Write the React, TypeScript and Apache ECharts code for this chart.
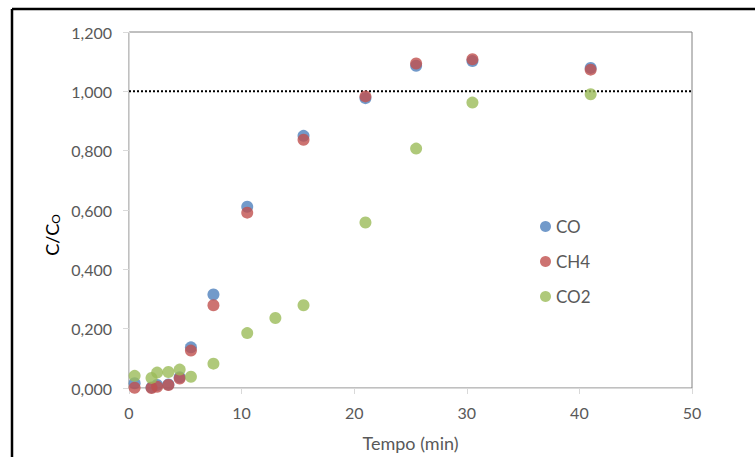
import React, { useEffect, useRef } from "react";
import * as echarts from "echarts";

const timeCO = [0.5, 2.0, 2.5, 3.5, 4.5, 5.5, 7.5, 10.5, 15.5, 21, 25.5, 30.5, 41];
const valCO = [0.016, 0.002, 0.01, 0.012, 0.036, 0.137, 0.315, 0.611, 0.85, 0.977, 1.086, 1.102, 1.079];
const timeCH4 = [0.5, 2.0, 2.5, 3.5, 4.5, 5.5, 7.5, 10.5, 15.5, 21, 25.5, 30.5, 41];
const valCH4 = [0.001, 0.0, 0.004, 0.01, 0.032, 0.126, 0.279, 0.591, 0.837, 0.983, 1.094, 1.108, 1.073];
const timeCO2 = [0.5, 2.0, 2.5, 3.5, 4.5, 5.5, 7.5, 10.5, 13, 15.5, 21, 25.5, 30.5, 41];
const valCO2 = [0.041, 0.034, 0.052, 0.054, 0.062, 0.038, 0.082, 0.185, 0.236, 0.279, 0.558, 0.807, 0.962, 0.99];
const refLineX = [0, 50];
const refLineY = [1, 1];
const seriesNames = ["CO", "CH4", "CO2"];
const colors = ["#4F81BD", "#C0504D", "#9BBB59"];

const zip = (xs: number[], ys: number[]) => xs.map((x, i) => [x, ys[i]]);

export default function App() {
  const ref = useRef<HTMLDivElement>(null);
  useEffect(() => {
    if (!ref.current) return;
    const chart = echarts.init(ref.current, null, { renderer: "svg" });
    const font = "Lato";
    chart.setOption({
      animation: false,
      backgroundColor: "#ffffff",
      textStyle: { fontFamily: font },
      grid: {
        left: 129,
        top: 32,
        width: 563,
        height: 361,
        show: true,
        borderColor: "#808080",
        borderWidth: 1,
      },
      legend: {
        orient: "vertical",
        left: 540,
        top: 217,
        padding: 0,
        itemWidth: 11,
        itemHeight: 11,
        itemGap: 16,
        icon: "circle",
        data: seriesNames,
        textStyle: { fontSize: 17, color: "#595959", fontFamily: font, lineHeight: 19 },
      },
      xAxis: {
        type: "value",
        min: 0,
        max: 50,
        interval: 10,
        name: "Tempo (min)",
        nameLocation: "middle",
        nameGap: 46,
        nameTextStyle: { fontSize: 18, color: "#595959", fontFamily: font },
        axisLine: { show: true, onZero: false, lineStyle: { color: "#d9d9d9", width: 1 } },
        axisTick: { show: true, length: 6, lineStyle: { color: "#d9d9d9" } },
        axisLabel: { fontSize: 16, color: "#595959", margin: 16, fontFamily: font },
        splitLine: { show: false },
      },
      yAxis: {
        type: "value",
        min: 0,
        max: 1.2,
        interval: 0.2,
        axisLine: { show: true, onZero: false, lineStyle: { color: "#d9d9d9", width: 1 } },
        axisTick: { show: true, length: 6, lineStyle: { color: "#d9d9d9" } },
        axisLabel: {
          fontSize: 16,
          color: "#595959",
          margin: 17,
          fontFamily: font,
          formatter: (v: number) => v.toFixed(3).replace(".", ","),
        },
        splitLine: { show: false },
      },
      graphic: [
        {
          type: "line",
          shape: { x1: 12, y1: 9, x2: 755, y2: 9 },
          style: { stroke: "#000", lineWidth: 2.5 },
        },
        {
          type: "line",
          shape: { x1: 12, y1: 9, x2: 12, y2: 457 },
          style: { stroke: "#000", lineWidth: 2.5 },
        },
        {
          type: "text",
          x: 50,
          y: 235,
          rotation: Math.PI / 2,
          style: {
            text: "{a|C/C}{b|O}",
            align: "center",
            verticalAlign: "middle",
            rich: {
              a: { fontSize: 18, color: "#595959", fontFamily: font, lineHeight: 22, verticalAlign: "bottom" },
              b: { fontSize: 12, color: "#595959", fontFamily: font, lineHeight: 14, verticalAlign: "bottom" },
            },
          },
        },
      ],
      series: [
        {
          name: "ref",
          type: "line",
          data: zip(refLineX, refLineY),
          symbol: "none",
          lineStyle: { color: "#000", width: 2, type: [2, 2] },
          silent: true,
          z: 1,
        },
        {
          name: seriesNames[0],
          type: "scatter",
          data: zip(timeCO, valCO),
          symbolSize: 12,
          itemStyle: { color: colors[0] },
          z: 2,
        },
        {
          name: seriesNames[1],
          type: "scatter",
          data: zip(timeCH4, valCH4),
          symbolSize: 12,
          itemStyle: { color: colors[1] },
          z: 3,
        },
        {
          name: seriesNames[2],
          type: "scatter",
          data: zip(timeCO2, valCO2),
          symbolSize: 12,
          itemStyle: { color: colors[2] },
          z: 4,
        },
      ],
    });
    return () => chart.dispose();
  }, []);
  return (
    <div
      ref={ref}
      style={{ position: "fixed", left: 0, top: 0, width: 755, height: 457 }}
    />
  );
}
